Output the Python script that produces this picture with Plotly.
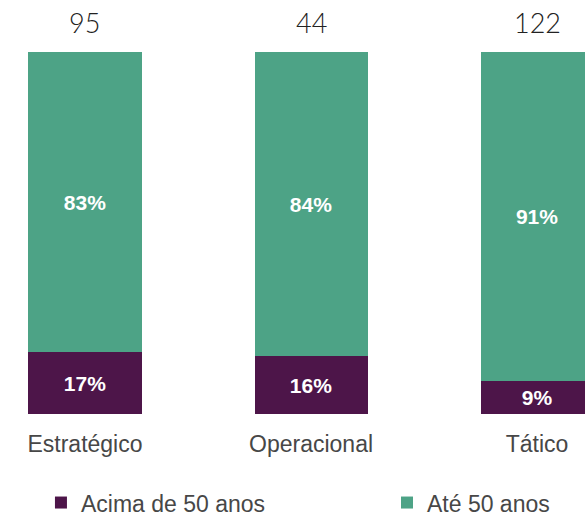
import plotly.graph_objects as go

categories = ["Estratégico", "Operacional", "Tático"]
acima_50 = [17, 16, 9]
ate_50 = [83, 84, 91]
totals = [95, 44, 122]

purple = "#4D1549"
green = "#4DA386"

fig = go.Figure()
fig.add_trace(go.Bar(
    name="Acima de 50 anos", x=categories, y=acima_50, marker_color=purple,
    marker_line_width=0, width=0.5, legend="legend",
    text=[f"{v}%" for v in acima_50], textposition="inside", insidetextanchor="middle",
    textfont=dict(family="Liberation Sans", size=21, color="white", weight="bold"),
))
fig.add_trace(go.Bar(
    name="Até 50 anos", x=categories, y=ate_50, marker_color=green,
    marker_line_width=0, width=0.5, legend="legend2",
    text=[f"{v}%" for v in ate_50], textposition="inside", insidetextanchor="middle",
    textfont=dict(family="Liberation Sans", size=21, color="white", weight="bold"),
))

for c, t in zip(categories, totals):
    fig.add_annotation(x=c, y=108.3, text=str(t), showarrow=False,
                       font=dict(family="Lato", size=27, color="#222222", weight=300),
                       xanchor="center", yanchor="middle")

legend_common = dict(orientation="h", xref="container", yref="container",
                     xanchor="left", y=0.026, yanchor="middle",
                     font=dict(family="Liberation Sans", size=23, color="#474747"),
                     itemwidth=30, bgcolor="rgba(0,0,0,0)")

fig.update_layout(
    barmode="stack",
    width=585, height=516,
    margin=dict(l=0, r=0, t=0, b=102),
    plot_bgcolor="white", paper_bgcolor="white",
    showlegend=True,
    legend=dict(x=0.07, **legend_common),
    legend2=dict(x=0.6615, **legend_common),
    xaxis=dict(range=[-0.376, 2.212], showgrid=False, showline=False, zeroline=False,
               tickfont=dict(family="Liberation Sans", size=23, color="#474747"),
               ticks="", ticklabelstandoff=14),
    yaxis=dict(range=[0, 114.4], visible=False, showgrid=False, zeroline=False),
)

fig.write_html("out.html")
